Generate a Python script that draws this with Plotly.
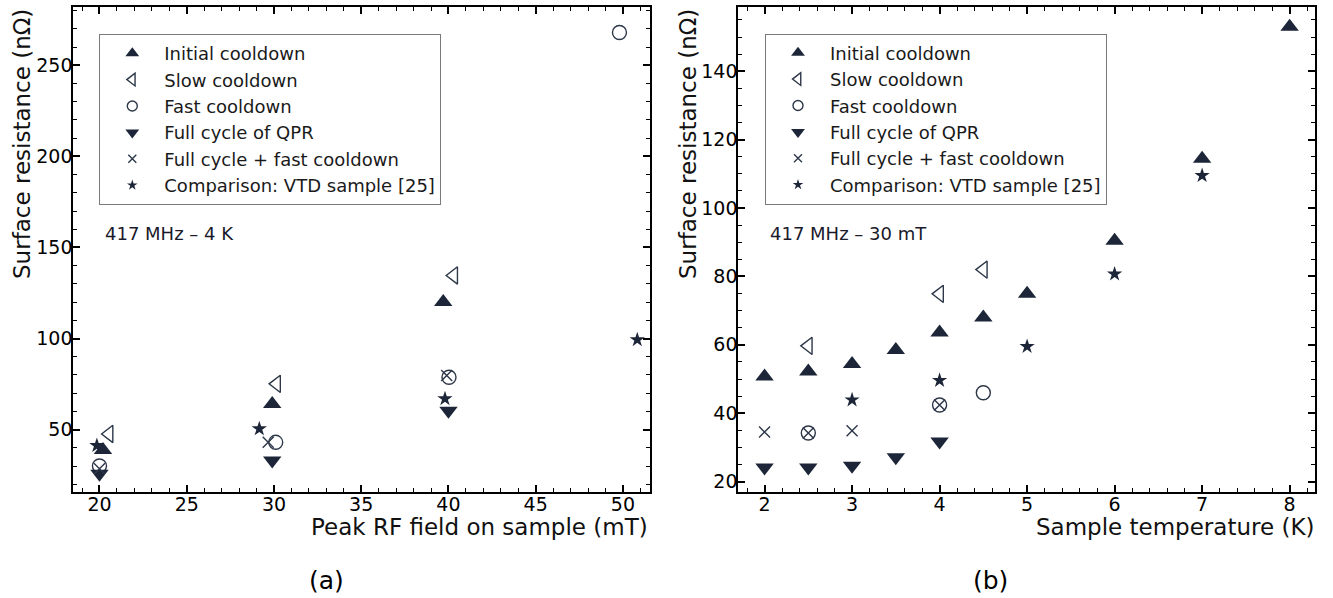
import plotly.graph_objects as go

# ---------------- data: panel (a) field sweep at 4 K ----------------
a_initial_x = [20.2, 29.9, 39.7]
a_initial_y = [38.8, 64.1, 120.0]
a_slow_x = [20.55, 30.15, 40.3]
a_slow_y = [47.6, 75.1, 134.6]
a_fast_x = [20.0, 30.1, 40.03, 49.8]
a_fast_y = [30.0, 43.0, 78.7, 268.0]
a_full_x = [20.0, 29.9, 40.0]
a_full_y = [25.7, 33.0, 60.4]
a_fullfast_x = [20.0, 29.67, 39.9]
a_fullfast_y = [28.5, 43.0, 79.7]
a_vtd_x = [19.85, 29.16, 39.8, 50.82]
a_vtd_y = [41.2, 50.4, 66.9, 99.3]

# ---------------- data: panel (b) temperature sweep at 30 mT ----------------
b_initial_x = [2, 2.5, 3, 3.5, 4, 4.5, 5, 6, 7, 8]
b_initial_y = [50.7, 52.2, 54.4, 58.5, 63.6, 68.0, 74.9, 90.4, 114.4, 153.0]
b_slow_x = [2.5, 4, 4.5]
b_slow_y = [59.7, 74.9, 82.0]
b_fast_x = [2.5, 4, 4.5]
b_fast_y = [34.2, 42.4, 46.0]
b_full_x = [2, 2.5, 3, 3.5, 4]
b_full_y = [24.1, 24.1, 24.6, 27.1, 31.7]
b_fullfast_x = [2, 2.5, 3, 4]
b_fullfast_y = [34.5, 34.2, 34.9, 42.4]
b_vtd_x = [3, 4, 5, 6, 7]
b_vtd_y = [43.9, 49.6, 59.5, 80.7, 109.5]

series_names = ["Initial cooldown", "Slow cooldown", "Fast cooldown",
                "Full cycle of QPR", "Full cycle + fast cooldown",
                "Comparison: VTD sample [25]"]

NAVY = "#1c2638"
EDGE = "#2c3748"
FONT = "DejaVu Sans"
W, H = 1333, 598

styles = [
    dict(symbol="triangle-up", size=16, color=NAVY),
    dict(symbol="triangle-left-open", size=15, color=EDGE, line=dict(width=1.4, color=EDGE)),
    dict(symbol="circle-open", size=14, color=EDGE, line=dict(width=1.4, color=EDGE)),
    dict(symbol="triangle-down", size=16, color=NAVY),
    dict(symbol="x-thin-open", size=11, color=EDGE, line=dict(width=1.4, color=EDGE)),
    dict(symbol="star", size=11.5, color=NAVY),
]
legend_sizes = [12, 11, 10, 12, 8, 8]

a_data = [(a_initial_x, a_initial_y), (a_slow_x, a_slow_y), (a_fast_x, a_fast_y),
          (a_full_x, a_full_y), (a_fullfast_x, a_fullfast_y), (a_vtd_x, a_vtd_y)]
b_data = [(b_initial_x, b_initial_y), (b_slow_x, b_slow_y), (b_fast_x, b_fast_y),
          (b_full_x, b_full_y), (b_fullfast_x, b_fullfast_y), (b_vtd_x, b_vtd_y)]

fig = go.Figure()

for data, xa, ya, lg in [(a_data, "x", "y", "legend"), (b_data, "x2", "y2", "legend2")]:
    for (xs, ys), st, name in zip(data, styles, series_names):
        fig.add_trace(go.Scatter(x=xs, y=ys, mode="markers", marker=st,
                                 xaxis=xa, yaxis=ya, showlegend=False, name=name))
    # legend entries (smaller symbols, like the reference legend)
    for st, name, ls in zip(styles, series_names, legend_sizes):
        m = dict(st)
        m["size"] = ls
        fig.add_trace(go.Scatter(x=[None], y=[None], mode="markers", marker=m,
                                 xaxis=xa, yaxis=ya, showlegend=True, name=name,
                                 legend=lg))


def px_x(p):
    return p / W


def px_y(p):
    return 1 - p / H


def axis_common(standoff, **kw):
    d = dict(showline=True, linecolor="black", linewidth=2, mirror="allticks",
             ticks="inside", ticklen=7, tickwidth=1.5, tickcolor="black",
             showgrid=False, zeroline=False, ticklabelstandoff=standoff,
             tickfont=dict(family=FONT, size=19, color="black"))
    d.update(kw)
    return d


def minor(dt):
    return dict(ticks="inside", ticklen=4, tickwidth=1.2, tickcolor="black",
                dtick=dt, tick0=0)


top_px, bot_px = 7, 491.5
legend_common = dict(xanchor="left", yanchor="top", bgcolor="white",
                     bordercolor="#7a7a7a", borderwidth=1,
                     font=dict(family=FONT, size=18, color="#1a1a1a"),
                     itemwidth=54, tracegroupgap=0)
fig.update_layout(
    width=W, height=H, margin=dict(l=0, r=0, t=0, b=0),
    paper_bgcolor="white", plot_bgcolor="white",
    font=dict(family=FONT, color="#1a1a1a"),
    xaxis=axis_common(-5, domain=[px_x(73.3), px_x(650)], range=[18.5, 51.55],
                      dtick=5, tick0=0, minor=minor(1), anchor="y"),
    yaxis=axis_common(-5, domain=[px_y(bot_px), px_y(top_px)], range=[16, 282],
                      dtick=50, tick0=0, minor=minor(10), anchor="x"),
    xaxis2=axis_common(-5, domain=[px_x(738.3), px_x(1315)], range=[1.70, 8.29],
                       dtick=1, tick0=0, minor=minor(0.2), anchor="y2"),
    yaxis2=axis_common(-5, domain=[px_y(bot_px), px_y(top_px)], range=[17.1, 158.8],
                       dtick=20, tick0=0, minor=minor(5), anchor="x2"),
    legend=dict(x=px_x(99.3), y=px_y(34), **legend_common),
    legend2=dict(x=px_x(765), y=px_y(33.5), **legend_common),
)

ann = []
title_font = dict(family=FONT, size=23, color="#111111")
ann.append(dict(text="Surface resistance (nΩ)", x=px_x(22), y=px_y(top_px),
                xref="paper", yref="paper", xanchor="center", yanchor="top",
                textangle=-90, showarrow=False, font=title_font))
ann.append(dict(text="Surface resistance (nΩ)", x=px_x(688), y=px_y(top_px),
                xref="paper", yref="paper", xanchor="center", yanchor="top",
                textangle=-90, showarrow=False, font=title_font))
ann.append(dict(text="Peak RF field on sample (mT)", x=px_x(650), y=px_y(527),
                xref="paper", yref="paper", xanchor="right", yanchor="middle",
                showarrow=False, font=title_font))
ann.append(dict(text="Sample temperature (K)", x=px_x(1316), y=px_y(527),
                xref="paper", yref="paper", xanchor="right", yanchor="middle",
                showarrow=False, font=title_font))
ann.append(dict(text="417 MHz – 4 K", x=px_x(103), y=px_y(233),
                xref="paper", yref="paper", xanchor="left", yanchor="middle",
                showarrow=False, font=dict(family=FONT, size=18, color="#1a1a2a")))
ann.append(dict(text="417 MHz – 30 mT", x=px_x(768), y=px_y(233),
                xref="paper", yref="paper", xanchor="left", yanchor="middle",
                showarrow=False, font=dict(family=FONT, size=18, color="#1a1a2a")))
ann.append(dict(text="(a)", x=px_x(326), y=px_y(580),
                xref="paper", yref="paper", xanchor="center", yanchor="middle",
                showarrow=False, font=dict(family=FONT, size=25, color="black")))
ann.append(dict(text="(b)", x=px_x(990), y=px_y(580),
                xref="paper", yref="paper", xanchor="center", yanchor="middle",
                showarrow=False, font=dict(family=FONT, size=25, color="black")))
fig.update_layout(annotations=ann)

fig.write_html("out.html",
               config={"displayModeBar": False},
               post_script="document.body.style.margin='0';"
                           "document.body.style.padding='0';"
                           "document.body.style.overflow='hidden';")
